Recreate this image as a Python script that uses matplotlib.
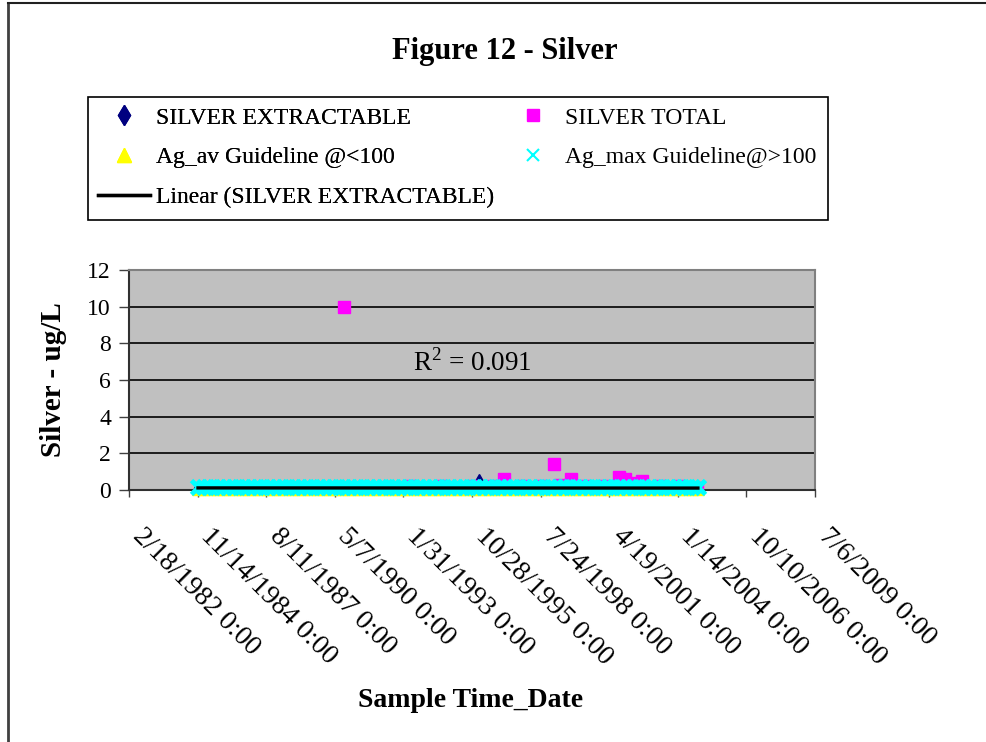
import numpy as np
import pandas as pd
import matplotlib
matplotlib.use("Agg")
import matplotlib.pyplot as plt
import matplotlib.dates as mdates
import matplotlib.transforms as mtransforms
from matplotlib.lines import Line2D
from matplotlib.patches import Rectangle

plt.rcParams["font.family"] = ["Liberation Serif", "DejaVu Serif"]
plt.rcParams["mathtext.fontset"] = "custom"
plt.rcParams["mathtext.rm"] = "Liberation Serif"

# ── data ────────────────────────────────────────────────────────────────────

sample_dates = [
    "1984-11-20", "1985-02-12", "1985-05-14", "1985-08-20", "1985-11-12",
    "1986-02-18", "1986-05-13", "1986-08-19", "1986-11-18",
    "1987-02-17", "1987-05-12", "1987-08-18", "1987-11-17",
    "1988-02-16", "1988-05-17", "1988-08-16", "1988-11-15",
    "1989-02-14", "1989-05-16", "1989-08-15", "1989-11-14",
    "1990-02-13", "1990-05-15", "1990-08-14", "1990-11-13",
    "1991-02-12", "1991-05-14", "1991-08-13", "1991-11-12",
    "1992-02-11", "1992-05-12", "1992-08-11", "1992-11-10",
    "1993-02-09", "1993-05-11", "1993-08-10", "1993-11-09",
    "1994-02-08", "1994-05-10", "1994-08-09", "1994-11-08",
    "1995-02-07", "1995-05-09", "1995-08-08", "1995-11-07",
    "1996-02-06", "1996-05-07", "1996-08-06", "1996-11-05",
    "1997-02-04", "1997-05-06", "1997-08-05", "1997-11-04",
    "1998-02-03", "1998-05-05", "1998-08-04", "1998-11-03",
    "1999-02-02", "1999-05-04", "1999-08-03", "1999-11-02",
    "2000-02-01", "2000-05-02", "2000-08-01", "2000-10-31",
    "2001-02-06", "2001-05-01", "2001-08-07", "2001-11-06",
    "2002-02-05", "2002-05-07", "2002-08-06", "2002-11-05",
    "2003-02-04", "2003-05-06", "2003-08-05", "2003-11-04",
    "2004-02-03", "2004-05-04", "2004-08-03", "2004-11-02",
]

silver_extractable = [
    0.1, 0.1, 0.15, 0.1, 0.1,
    0.1, 0.1, 0.1, 0.15,
    0.1, 0.1, 0.1, 0.1,
    0.15, 0.1, 0.1, 0.1,
    0.1, 0.1, 0.15, 0.1,
    0.1, 0.1, 0.1, 0.1,
    0.1, 0.15, 0.1, 0.1,
    0.1, 0.1, 0.1, 0.15,
    0.1, 0.1, 0.1, 0.1,
    0.15, 0.1, 0.1, 0.1,
    0.1, 0.1, 0.15, 0.1,
    0.5, 0.1, 0.1, 0.1,
    0.1, 0.1, 0.1, 0.1,
    0.1, 0.1, 0.1, 0.1,
    0.1, 0.1, 0.1, 0.1,
    0.1, 0.1, 0.1, 0.1,
    0.1, 0.1, 0.1, 0.1,
    0.1, 0.1, 0.1, 0.1,
    0.1, 0.1, 0.1, 0.1,
    0.1, 0.1, 0.1, 0.1,
]

total_dates = [
    "1990-09-11", "1993-05-11", "1994-08-09", "1995-11-07", "1996-08-06",
    "1997-02-04", "1997-11-04", "1998-08-04", "1999-02-02", "1999-05-04",
    "1999-10-05", "2000-05-02", "2001-02-06", "2001-09-04", "2001-12-04",
    "2002-03-05", "2002-08-06", "2003-05-06", "2004-02-03", "2004-10-19",
]
silver_total = [10.0, 0.2, 0.2, 0.2, 0.2, 0.6, 0.2, 0.2, 1.4, 0.3,
                0.6, 0.2, 0.2, 0.7, 0.6, 0.4, 0.5, 0.2, 0.2, 0.1]

AG_AV_GUIDELINE = 0.05    # ug/L, hardness < 100
AG_MAX_GUIDELINE = 0.15   # ug/L, hardness > 100

xtick_labels = [
    "2/18/1982 0:00", "11/14/1984 0:00", "8/11/1987 0:00", "5/7/1990 0:00",
    "1/31/1993 0:00", "10/28/1995 0:00", "7/24/1998 0:00", "4/19/2001 0:00",
    "1/14/2004 0:00", "10/10/2006 0:00", "7/6/2009 0:00",
]
R2_TEXT = r"$\mathrm{R}^2$ = 0.091"

# ── figure ─────────────────────────────────────────────────────────────────

W, H = 987, 742


def fx(px):
    return px / W


def fy(py):
    return 1 - py / H


fig = plt.figure(figsize=(W / 100, H / 100), dpi=100)
ax = fig.add_axes([fx(129), fy(490), fx(815) - fx(129), (490 - 270) / H])
ax.set_facecolor("#C0C0C0")

d = pd.to_datetime(sample_dates)
dt = pd.to_datetime(total_dates)
n = len(d)

ax.plot(d, silver_extractable, ls="none", marker="d", ms=7, color="#000080",
        zorder=3, clip_on=False)
ax.plot(dt, silver_total, ls="none", marker="s", ms=8.5, color="#FF00FF",
        zorder=4, clip_on=False)
ax.plot(d, [AG_AV_GUIDELINE] * n, ls="none", marker="^", ms=8, color="#FFFF00",
        zorder=5, clip_on=False)
ax.plot(d, [AG_MAX_GUIDELINE] * n, ls="none", marker="x", ms=9.5, mew=3.5,
        color="#00FFFF", zorder=6, clip_on=False)

# linear trendline on extractable silver
xn = mdates.date2num(d)
coef = np.polyfit(xn, silver_extractable, 1)
xt = np.array([xn.min(), xn.max()])
ax.plot(mdates.num2date(xt), np.polyval(coef, xt), color="black", lw=2.4,
        zorder=7)

ax.text(0.5, 0.577, R2_TEXT, transform=ax.transAxes, ha="center", va="center",
        fontsize=19.5)

# axes
tick_pos = pd.to_datetime(xtick_labels, format="%m/%d/%Y %H:%M")
ax.set_xlim(tick_pos[0], tick_pos[-1])
ax.set_ylim(0, 12)
ax.set_yticks(range(0, 13, 2))
ax.yaxis.grid(True, color="black", lw=1.2)
ax.set_axisbelow(True)
ax.set_xticks(tick_pos)
ax.set_xticklabels([])
# rotated date labels, nudged like Excel places them
lab_tr = mtransforms.blended_transform_factory(ax.transData, ax.transAxes) + \
    mtransforms.ScaledTranslation(0.16, -0.34, fig.dpi_scale_trans)
for pos, lab in zip(tick_pos, xtick_labels):
    ax.text(pos, 0, lab, transform=lab_tr, rotation=-45, ha="left", va="top",
            rotation_mode="anchor", fontsize=20, clip_on=False)
ax.tick_params(axis="x", length=5, width=1, color="#404040")
ax.tick_params(axis="y", length=7, width=1, color="#404040", pad=6,
               labelsize=17)
for side in ["top", "right"]:
    ax.spines[side].set_color("#808080")
    ax.spines[side].set_linewidth(1.5)
for side in ["left", "bottom"]:
    ax.spines[side].set_color("#303030")
    ax.spines[side].set_linewidth(1.5)

ax.set_xlabel("Sample Time_Date", fontsize=20, fontweight="bold")
ax.xaxis.set_label_coords(0.4985, -0.898)
ax.set_ylabel("Silver - ug/L", fontsize=21, fontweight="bold")
ax.yaxis.set_label_coords(-0.09, 0.5)

fig.suptitle("Figure 12 - Silver", x=fx(505), y=fy(51), va="center",
             fontsize=22, fontweight="bold")

# legend (two columns, Excel-style box)
h_extr = Line2D([], [], ls="none", marker="d", ms=10, color="#000080")
h_total = Line2D([], [], ls="none", marker="s", ms=8, color="#FF00FF")
h_av = Line2D([], [], ls="none", marker="^", ms=10, color="#FFFF00")
h_max = Line2D([], [], ls="none", marker="x", ms=9, mew=1.5, color="#00FFFF")
h_lin = Line2D([], [], color="black", lw=2.4)

leg_kw = dict(frameon=False, loc="upper left", borderpad=0, borderaxespad=0,
              fontsize=17, handlelength=2.2, handletextpad=0.25,
              labelspacing=0.78)
leg1 = fig.legend([h_extr, h_av, h_lin],
                  ["SILVER EXTRACTABLE", "Ag_av Guideline @<100",
                   "Linear (SILVER EXTRACTABLE)"],
                  bbox_to_anchor=(fx(98), fy(107)), **leg_kw)
leg2 = fig.legend([h_total, h_max],
                  ["SILVER TOTAL", "Ag_max Guideline@>100"],
                  bbox_to_anchor=(fx(507), fy(107)), **leg_kw)
fig.add_artist(leg1)
fig.patches.append(Rectangle((fx(88), fy(220)), fx(828) - fx(88), (220 - 97) / H,
                             transform=fig.transFigure, fill=False,
                             edgecolor="black", lw=1.2))

# chart-area border (left and top only visible)
fig.add_artist(Line2D([fx(8), fx(8)], [0, fy(3)], color="#404040", lw=2))
fig.add_artist(Line2D([fx(8), 1], [fy(3), fy(3)], color="#202020", lw=1.5))

fig.savefig("out.png", dpi=100)
